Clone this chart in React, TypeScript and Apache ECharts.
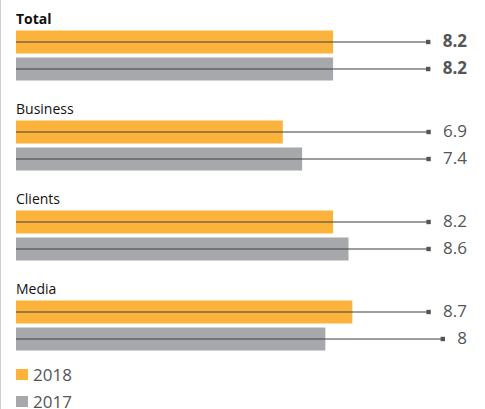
import React, { useEffect, useRef } from "react";
import * as echarts from "echarts";

const categories = ["Total", "Business", "Clients", "Media"];
const values2018 = [8.2, 6.9, 8.2, 8.7];
const values2017 = [8.2, 7.4, 8.6, 8];
const seriesNames = ["2018", "2017"];
const seriesColors = ["#FBB33B", "#A7A8AB"];

const FONT = '"Open Sans", "Noto Sans", sans-serif';

let measureCtx: CanvasRenderingContext2D | null = null;
function textWidth(t: string, font: string): number {
  if (!measureCtx) measureCtx = document.createElement("canvas").getContext("2d");
  if (!measureCtx) return t.length * 9;
  measureCtx.font = font;
  return measureCtx.measureText(t).width;
}

function makeLineRenderer(offset: number) {
  return (params: any, api: any) => {
    const v = api.value(0);
    const cat = api.value(1);
    const start = api.coord([0, cat]);
    const y = start[1] + offset;
    const cs = params.coordSys;
    const right = cs.x + cs.width - 13;
    const bold = cat === 0;
    const label = String(v);
    const font = `${bold ? "bold " : ""}17px ${FONT}`;
    const w = textWidth(label, font);
    const mx = right - w - 14.5;
    return {
      type: "group",
      children: [
        {
          type: "line",
          shape: { x1: start[0], y1: y, x2: mx, y2: y },
          style: { stroke: "rgba(70,70,70,0.7)", lineWidth: 1.4 },
        },
        {
          type: "rect",
          shape: { x: mx - 2.2, y: y - 2.2, width: 4.4, height: 4.4 },
          style: { fill: "#555" },
        },
        {
          type: "text",
          x: right,
          y: y - 1.5,
          style: {
            text: label,
            fill: "#555",
            font,
            align: "right",
            verticalAlign: "middle",
          },
        },
      ],
    };
  };
}

export default function App() {
  const ref = useRef<HTMLDivElement>(null);
  useEffect(() => {
    if (!ref.current) return;
    const chart = echarts.init(ref.current, undefined, { renderer: "svg" });
    const option: any = {
      animation: false,
      backgroundColor: "#fff",
      grid: { left: 16, right: 5, top: 10.5, height: 360 },
      xAxis: {
        type: "value",
        min: 0,
        max: 12,
        show: false,
      },
      yAxis: {
        type: "category",
        data: categories,
        inverse: true,
        axisLine: { show: false },
        axisTick: { show: false },
        axisLabel: { show: false },
        splitLine: { show: false },
      },
      legend: {
        data: seriesNames,
        orient: "vertical",
        left: 16,
        top: 366,
        height: 80,
        padding: 0,
        itemWidth: 12,
        itemHeight: 11,
        itemGap: 10,
        icon: "rect",
        textStyle: { fontFamily: FONT, fontSize: 17, color: "#555" },
        selectedMode: false,
      },
      graphic: [
        {
          type: "rect",
          shape: { x: 0, y: 0, width: 1, height: 409 },
          style: { fill: "#cfcfcf" },
        },
      ],
      series: [
        {
          name: seriesNames[0],
          type: "bar",
          data: values2018,
          barWidth: 23,
          barGap: "17.4%",
          itemStyle: { color: seriesColors[0] },
        },
        {
          name: seriesNames[1],
          type: "bar",
          data: values2017,
          barWidth: 23,
          barGap: "17.4%",
          itemStyle: { color: seriesColors[1] },
        },
        {
          name: "line2018",
          type: "custom",
          data: values2018.map((v, i) => [v, i]),
          renderItem: makeLineRenderer(-13.5),
          clip: false,
          z: 5,
        },
        {
          name: "line2017",
          type: "custom",
          data: values2017.map((v, i) => [v, i]),
          renderItem: makeLineRenderer(13.5),
          clip: false,
          z: 5,
        },
        {
          name: "titles",
          type: "custom",
          data: categories.map((c, i) => [0, i]),
          clip: false,
          z: 5,
          renderItem: (params: any, api: any) => {
            const cat = api.value(1);
            const p = api.coord([0, cat]);
            return {
              type: "text",
              x: p[0],
              y: p[1] - 37,
              style: {
                text: categories[cat],
                fill: "#111",
                font: `${cat === 0 ? "bold " : ""}14px ${FONT}`,
                align: "left",
                verticalAlign: "middle",
              },
            };
          },
        },
      ],
    };
    chart.setOption(option);
    return () => chart.dispose();
  }, []);
  return (
    <div
      ref={ref}
      style={{ position: "absolute", left: 0, top: 0, width: 485, height: 409 }}
    />
  );
}
